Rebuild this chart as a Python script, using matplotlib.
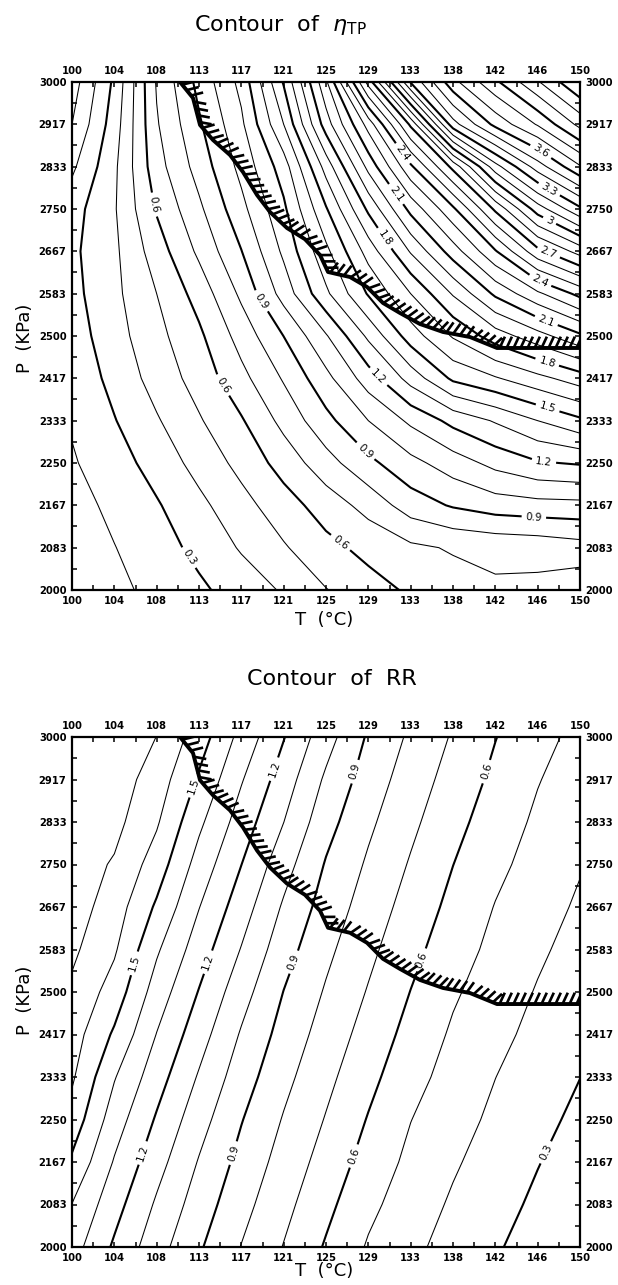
import numpy as np
import matplotlib
matplotlib.use("Agg")
import matplotlib.pyplot as plt
from matplotlib import patheffects

# ---------------- data ----------------
# grid nodes (13 x 13, at the labelled tick positions)
T_nodes = np.linspace(100, 150, 13)
P_nodes = np.linspace(2000, 3000, 13)

T_tick_labels = ["100", "104", "108", "113", "117", "121", "125",
                 "129", "133", "138", "142", "146", "150"]
P_tick_labels = ["2000", "2083", "2167", "2250", "2333", "2417", "2500",
                 "2583", "2667", "2750", "2833", "2917", "3000"]

# eta_TP field, one row per P node (2000 -> 3000), columns T 100 -> 150
eta_p2000 = [0.12, 0.175, 0.228, 0.282, 0.344, 0.411, 0.496, 0.56, 0.615, 0.655, 0.685, 0.675, 0.63]
eta_p2083 = [0.14, 0.197, 0.258, 0.327, 0.41, 0.49, 0.57, 0.63, 0.68, 0.71, 0.725, 0.735, 0.76]
eta_p2167 = [0.16, 0.225, 0.29, 0.375, 0.466, 0.556, 0.646, 0.735, 0.85, 0.91, 0.95, 0.965, 0.97]
eta_p2250 = [0.19, 0.256, 0.34, 0.435, 0.53, 0.64, 0.76, 0.875, 0.97, 1.05, 1.13, 1.19, 1.21]
eta_p2333 = [0.21, 0.295, 0.39, 0.49, 0.59, 0.73, 0.87, 1.00, 1.12, 1.23, 1.31, 1.40, 1.48]
eta_p2417 = [0.23, 0.33, 0.44, 0.54, 0.67, 0.81, 0.97, 1.15, 1.34, 1.52, 1.59, 1.67, 1.75]
eta_p2500 = [0.25, 0.36, 0.47, 0.58, 0.74, 0.901, 1.09, 1.32, 1.55, 1.71, 1.85, 1.96, 2.08]
eta_p2583 = [0.27, 0.376, 0.50, 0.64, 0.82, 1.04, 1.28, 1.51, 1.70, 1.91, 2.12, 2.28, 2.43]
eta_p2667 = [0.28, 0.38, 0.55, 0.72, 0.897, 1.12, 1.375, 1.64, 1.91, 2.15, 2.39, 2.67, 2.84]
eta_p2750 = [0.26, 0.39, 0.61, 0.78, 0.97, 1.18, 1.49, 1.82, 2.13, 2.38, 2.72, 3.05, 3.28]
eta_p2833 = [0.18, 0.38, 0.66, 0.84, 1.03, 1.25, 1.64, 2.03, 2.38, 2.73, 3.16, 3.45, 3.69]
eta_p2917 = [0.10, 0.35, 0.69, 0.886, 1.08, 1.40, 1.85, 2.24, 2.72, 3.36, 3.63, 3.81, 4.03]
eta_p3000 = [0.05, 0.32, 0.71, 0.93, 1.13, 1.51, 1.98, 2.64, 3.31, 3.67, 3.88, 4.09, 4.30]

# RR field
rr_p2000 = [1.342, 1.185, 1.04, 0.912, 0.797, 0.696, 0.59, 0.49, 0.423, 0.364, 0.31, 0.26, 0.21]
rr_p2083 = [1.398, 1.238, 1.086, 0.952, 0.833, 0.729, 0.626, 0.524, 0.45, 0.387, 0.334, 0.282, 0.234]
rr_p2167 = [1.483, 1.292, 1.138, 0.993, 0.869, 0.761, 0.661, 0.561, 0.476, 0.412, 0.357, 0.304, 0.256]
rr_p2250 = [1.561, 1.348, 1.189, 1.04, 0.905, 0.793, 0.694, 0.594, 0.502, 0.438, 0.38, 0.328, 0.278]
rr_p2333 = [1.614, 1.407, 1.243, 1.09, 0.947, 0.828, 0.726, 0.628, 0.535, 0.462, 0.401, 0.35, 0.301]
rr_p2417 = [1.646, 1.485, 1.297, 1.143, 0.99, 0.863, 0.758, 0.661, 0.567, 0.486, 0.427, 0.372, 0.322]
rr_p2500 = [1.681, 1.557, 1.354, 1.195, 1.04, 0.898, 0.79, 0.693, 0.598, 0.513, 0.451, 0.393, 0.344]
rr_p2583 = [1.72, 1.613, 1.414, 1.249, 1.095, 0.941, 0.823, 0.724, 0.63, 0.544, 0.474, 0.416, 0.365]
rr_p2667 = [1.75, 1.65, 1.485, 1.303, 1.148, 0.987, 0.858, 0.755, 0.661, 0.573, 0.496, 0.44, 0.386]
rr_p2750 = [1.75, 1.69, 1.553, 1.36, 1.201, 1.04, 0.892, 0.786, 0.691, 0.601, 0.524, 0.462, 0.407]
rr_p2833 = [1.76, 1.73, 1.612, 1.421, 1.254, 1.101, 0.936, 0.819, 0.722, 0.631, 0.551, 0.483, 0.43]
rr_p2917 = [1.76, 1.75, 1.655, 1.486, 1.308, 1.152, 0.983, 0.853, 0.752, 0.661, 0.578, 0.505, 0.451]
rr_p3000 = [1.77, 1.76, 1.699, 1.55, 1.367, 1.205, 1.041, 0.887, 0.783, 0.69, 0.603, 0.532, 0.472]

# hatched operating-limit boundary (same in both panels)
boundary_T = [110.63, 111.91, 112.60, 113.88, 115.55, 116.83, 118.21, 119.49, 121.16,
              122.93, 124.41, 125.20, 127.36, 129.04, 130.61, 132.28, 134.25, 136.52,
              139.17, 141.83, 150.0]
boundary_P = [3000.0, 2968.5, 2915.4, 2885.8, 2856.3, 2822.8, 2777.6, 2744.1, 2712.6,
              2690.6, 2659.4, 2626.0, 2616.1, 2596.5, 2565.0, 2545.3, 2523.6, 2507.9,
              2498.0, 2476.4, 2476.4]

eta_levels = [round(0.1 * k, 1) for k in range(1, 44)]
rr_levels = [round(0.1 * k, 1) for k in range(1, 18)]

eta_label_levels = [0.3, 0.6, 0.9, 1.2, 1.5, 1.8, 2.1, 2.4, 2.7, 3.0, 3.3, 3.6]
rr_label_levels = [0.3, 0.6, 0.9, 1.2, 1.5]

# label anchor positions (T, P)
eta_label_pos = [(111.6, 2065), (107.9, 2758), (114.9, 2404), (126.1, 2085),
                 (118.8, 2571), (128.8, 2272), (145.4, 2124), (130.1, 2419),
                 (146.4, 2244), (146.6, 2344), (130.5, 2689), (146.6, 2437),
                 (131.8, 2778), (146.6, 2526), (132.6, 2860), (145.9, 2600),
                 (146.8, 2659), (146.8, 2719), (146.8, 2783), (145.9, 2856)]
rr_label_pos = [(112.3, 2902), (106.7, 2553), (120.2, 2935), (113.6, 2557),
                (107.0, 2184), (128.4, 2929), (122.6, 2553), (115.9, 2184),
                (141.3, 2929), (135.2, 2557), (128.1, 2176), (146.8, 2184)]

eta = np.array([eta_p2000, eta_p2083, eta_p2167, eta_p2250, eta_p2333, eta_p2417,
                eta_p2500, eta_p2583, eta_p2667, eta_p2750, eta_p2833, eta_p2917,
                eta_p3000])
rr = np.array([rr_p2000, rr_p2083, rr_p2167, rr_p2250, rr_p2333, rr_p2417,
               rr_p2500, rr_p2583, rr_p2667, rr_p2750, rr_p2833, rr_p2917,
               rr_p3000])

# ---------------- figure ----------------
W, H = 618, 1285
fig = plt.figure(figsize=(W / 100, H / 100), dpi=100)
fig.patch.set_facecolor("white")


def is_bold(v):
    return abs(v / 0.3 - round(v / 0.3)) < 1e-6


def fmt(v):
    return f"{v:g}"


def panel(rect, Z, levels, label_levels, label_pos):
    ax = fig.add_axes(rect)
    thin = [v for v in levels if not is_bold(v)]
    bold = [v for v in levels if is_bold(v)]
    ax.contour(T_nodes, P_nodes, Z, levels=thin, colors="k", linewidths=0.75)
    cs = ax.contour(T_nodes, P_nodes, Z, levels=bold, colors="k", linewidths=1.5)
    ax.clabel(cs, levels=label_levels, manual=label_pos, inline=True,
              fmt=fmt, fontsize=7.5, inline_spacing=4)
    ax.plot(boundary_T, boundary_P, color="k", lw=2.8, solid_capstyle="butt",
            path_effects=[patheffects.withTickedStroke(angle=65, spacing=5.0,
                                                       length=1.8, linewidth=1.9)],
            clip_on=True)
    ax.set_xlim(100, 150)
    ax.set_ylim(2000, 3000)
    ax.set_xticks(T_nodes)
    ax.set_xticklabels(T_tick_labels)
    ax.set_yticks(P_nodes)
    ax.set_yticklabels(P_tick_labels)
    ax.set_xticks(np.linspace(100, 150, 25), minor=True)
    ax.set_yticks(np.linspace(2000, 3000, 25), minor=True)
    ax.tick_params(which="both", direction="in", top=True, right=True,
                   labeltop=True, labelright=True, length=3.5, width=1.1,
                   color="k")
    ax.tick_params(which="major", labelsize=7.2, pad=4)
    for lab in ax.get_xticklabels() + ax.get_yticklabels():
        lab.set_fontweight("bold")
    for s in ax.spines.values():
        s.set_linewidth(1.6)
    return ax


ax1 = panel([72 / W, 1 - 590 / H, 508 / W, 508 / H], eta, eta_levels,
            eta_label_levels, eta_label_pos)
ax2 = panel([72 / W, 1 - 1247 / H, 508 / W, 510 / H], rr, rr_levels,
            rr_label_levels, rr_label_pos)

fig.text(280 / W, 1 - 25 / H, r"Contour  of  $\eta_{\rm TP}$", ha="center",
         va="center", fontsize=16)
fig.text(332 / W, 1 - 679 / H, "Contour  of  RR", ha="center", va="center",
         fontsize=16)

for yc in (338, 1000):
    fig.text(25 / W, 1 - yc / H, "P  (KPa)", rotation=90, ha="center",
             va="center", fontsize=13)
for yc in (620, 1271):
    fig.text(324 / W, 1 - yc / H, "T  (°C)", ha="center", va="center",
             fontsize=13)

fig.savefig("out.png", dpi=100, facecolor="white")
